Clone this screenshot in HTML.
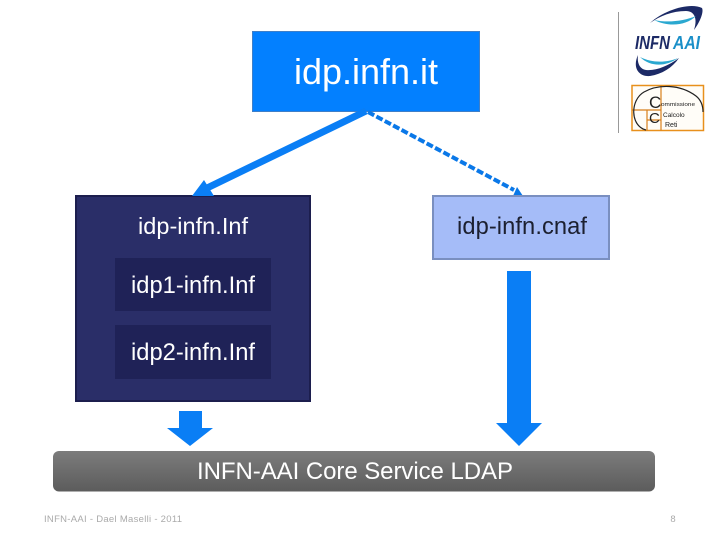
<!DOCTYPE html>
<html><head><meta charset="utf-8"><style>
html,body{margin:0;padding:0;background:#fff}
svg{display:block}
text{font-family:"Liberation Sans",sans-serif}
</style></head><body>
<svg width="720" height="540" viewBox="0 0 720 540" xmlns="http://www.w3.org/2000/svg">
<defs><linearGradient id="g" x1="0" y1="0" x2="0" y2="1"><stop offset="0" stop-color="#7c7c7c"/><stop offset="1" stop-color="#5c5c5c"/></linearGradient></defs>
<rect x="0" y="0" width="720" height="540" fill="#fff"/>
<rect x="252.500" y="31.500" width="227" height="80" fill="#0380ff" stroke="#3f7fc8" stroke-width="1"/>
<text x="294" y="84" font-size="36" fill="#fff" textLength="144" lengthAdjust="spacing">idp.infn.it</text>
<line x1="366" y1="111" x2="205" y2="189" stroke="#0a7ef5" stroke-width="7"/>
<line x1="368" y1="112" x2="514" y2="190" stroke="#0a78e8" stroke-width="4" stroke-dasharray="7 2.500"/>
<polygon points="513,196 523,196 517,187" fill="#0a78e8"/>
<rect x="76" y="196" width="234" height="205" fill="#2a2e68" stroke="#1c1e4e" stroke-width="2"/>
<polygon points="192,196 214,196 204,180" fill="#0a7ef5"/>
<text x="138" y="234" font-size="23.500" fill="#fff" textLength="110" lengthAdjust="spacing">idp-infn.Inf</text>
<rect x="115" y="258" width="156" height="53" fill="#1f2257"/>
<text x="131" y="293" font-size="23.700" fill="#fff" textLength="124" lengthAdjust="spacing">idp1-infn.Inf</text>
<rect x="115" y="325" width="156" height="54" fill="#1f2257"/>
<text x="131" y="360" font-size="23.700" fill="#fff" textLength="124" lengthAdjust="spacing">idp2-infn.Inf</text>
<rect x="433" y="196" width="176" height="63" fill="#a5bcf8" stroke="#7a8fc0" stroke-width="2"/>
<text x="457" y="234" font-size="23.700" fill="#1c2030" textLength="130" lengthAdjust="spacing">idp-infn.cnaf</text>
<polygon points="179,411 202,411 202,428 213,428 190,446 167,428 179,428" fill="#0a7ef5"/>
<polygon points="507,271 531,271 531,423 542,423 519,446 496,423 507,423" fill="#0a7ef5"/>
<rect x="53" y="451" width="602" height="40.500" rx="6" fill="url(#g)"/>
<text x="197" y="479" font-size="24" fill="#fff" textLength="316" lengthAdjust="spacing">INFN-AAI Core Service LDAP</text>
<text x="44" y="522" font-size="9.500" fill="#aaa" textLength="138" lengthAdjust="spacing">INFN-AAI - Dael Maselli - 2011</text>
<text x="673" y="522" font-size="9.500" fill="#aaa" text-anchor="middle">8</text>
<line x1="618.500" y1="12" x2="618.500" y2="133" stroke="#999" stroke-width="1"/>
<path d="M650 23 C664 10 690 2 702 8 C704 12 700 22 694 30 C698 18 694 11 686 11 C672 11 660 16 650 23Z" fill="#1c2a66"/>
<path d="M654 20 C668 23 684 21 696 16 C686 26 668 27 654 20Z" fill="#2aa8d0"/>
<text x="635" y="49" font-size="18" font-weight="bold" font-style="italic" fill="#1c2a66" textLength="35" lengthAdjust="spacingAndGlyphs">INFN</text>
<text x="673" y="49" font-size="18" font-weight="bold" font-style="italic" fill="#1a8fc8" textLength="27" lengthAdjust="spacingAndGlyphs">AAI</text>
<path d="M638 55 C632 68 639 77 650 76 C662 74 672 68 679 58 C668 66 656 71 646 70 C639 69 637 62 638 55Z" fill="#1c2a66"/>
<path d="M640 57 C652 63 666 63 678 58 C666 67 650 67 640 57Z" fill="#2aa8d0"/>
<rect x="632" y="85.500" width="71.500" height="45" fill="#fffdf8" stroke="#e8901c" stroke-width="1.500"/>
<path d="M661 85.500V110M632 110H661V130.500M647 110V130.500M647 120H661" stroke="#d8801c" stroke-width="1.200" fill="none"/>
<path d="M646 130 C630 126 630 100 644 92 C658 84 680 84 696 96 C701 100 703 106 703 112" fill="none" stroke="#222" stroke-width="1.200"/>
<text x="649" y="108" font-size="17" fill="#222">C</text>
<text x="649" y="123" font-size="15" fill="#222">C</text>
<text x="661" y="106" font-size="5.500" fill="#222" textLength="34" lengthAdjust="spacingAndGlyphs">ommissione</text>
<text x="663" y="117" font-size="6.500" fill="#222">Calcolo</text>
<text x="665" y="127" font-size="7" fill="#222">Reti</text>
</svg>
</body></html>
